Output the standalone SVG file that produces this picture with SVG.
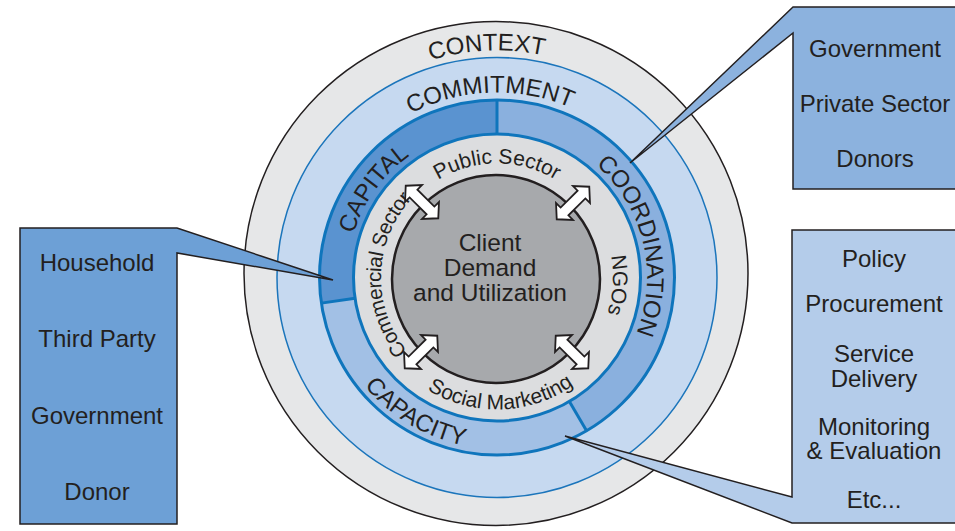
<svg xmlns="http://www.w3.org/2000/svg" width="955" height="531" viewBox="0 0 955 531">
<style>
text{font-family:"Liberation Sans","DejaVu Sans",sans-serif;fill:#231f20}
.ring{font-size:24px}
.inner{font-size:21px}
.box{font-size:24px;text-anchor:middle}
.ctr{font-size:24.5px;text-anchor:middle}
.thick{fill:none;stroke:#0f75bc;stroke-width:3}
.callout{stroke:#231f20;stroke-width:1.5;stroke-linejoin:miter}
.arrow{fill:#ffffff;stroke:#231f20;stroke-width:1.8;stroke-linejoin:miter}
</style>
<defs>
<path id="cw227" d="M497,504.5 A227,227 0 1 1 497,50.5 A227,227 0 1 1 497,504.5"/>
<path id="cw185" d="M497,462.5 A185,185 0 1 1 497,92.5 A185,185 0 1 1 497,462.5"/>
<path id="cw150" d="M497,427.5 A150,150 0 1 1 497,127.5 A150,150 0 1 1 497,427.5"/>
<path id="cw114" d="M497,391.5 A114,114 0 1 1 497,163.5 A114,114 0 1 1 497,391.5"/>
<path id="cw116" d="M497,393.5 A116,116 0 1 1 497,161.5 A116,116 0 1 1 497,393.5"/>
<path id="ccw132" d="M497,145.5 A132,132 0 1 0 497,409.5 A132,132 0 1 0 497,145.5"/>
<path id="ccw171" d="M497,106.5 A171,171 0 1 0 497,448.5 A171,171 0 1 0 497,106.5"/>
<path id="dblarrow" d="M-23,0 L-12,-12 L-12,-5.5 L12,-5.5 L12,-12 L23,0 L12,12 L12,5.5 L-12,5.5 L-12,12 Z"/>
</defs>

<g id="context">
<circle cx="496" cy="273.5" r="252" fill="#e6e7e8" stroke="#231f20" stroke-width="1.5"/>
<text class="ring"><textPath href="#cw227" startOffset="49.3%" text-anchor="middle">CONTEXT</textPath></text>
</g>

<g id="commitment">
<circle cx="497" cy="277.5" r="220" fill="#c6d9f0" stroke="#1b75bb" stroke-width="1.5"/>
<text class="ring"><textPath href="#cw185" startOffset="49.4%" text-anchor="middle">COMMITMENT</textPath></text>
</g>

<g id="capital">
<path d="M321.36,303.12 A177.5,177.5 0 0 1 497,100 L497,134 A143.5,143.5 0 0 0 355,298.22 Z" fill="#5a93d0"/>
</g>
<g id="coordination">
<path d="M497,100 A177.5,177.5 0 0 1 586.55,430.75 L569.4,401.4 A143.5,143.5 0 0 0 497,134 Z" fill="#8ab0de"/>
</g>
<g id="capacity">
<path d="M586.55,430.75 A177.5,177.5 0 0 1 321.36,303.12 L355,298.22 A143.5,143.5 0 0 0 569.4,401.4 Z" fill="#a2c0e5"/>
</g>

<g id="sectors">
<circle cx="497" cy="277.5" r="143.5" fill="#dcdddf"/>
<circle class="thick" cx="497" cy="277.5" r="177.5"/>
<circle class="thick" cx="497" cy="277.5" r="143.5"/>
<line class="thick" x1="497" y1="100" x2="497" y2="134"/>
<line class="thick" x1="321.36" y1="303.12" x2="355" y2="298.22"/>
<line class="thick" x1="586.55" y1="430.75" x2="569.4" y2="401.4"/>
<text class="ring"><textPath href="#cw150" startOffset="34.9%" text-anchor="middle">CAPITAL</textPath></text>
<text class="ring"><textPath href="#cw150" startOffset="71.25%" text-anchor="middle">COORDINATION</textPath></text>
<text class="ring"><textPath href="#ccw171" startOffset="41.4%" text-anchor="middle">CAPACITY</textPath></text>
<text class="inner"><textPath href="#cw114" startOffset="50%" text-anchor="middle">Public Sector</textPath></text>
<text class="inner"><textPath href="#cw116" startOffset="76%" text-anchor="middle">NGOs</textPath></text>
<text class="inner" style="font-size:20.5px;letter-spacing:-0.5px"><textPath href="#cw116" startOffset="25.4%" text-anchor="middle">Commercial Sector</textPath></text>
<text class="inner"><textPath href="#ccw132" startOffset="50.5%" text-anchor="middle">Social Marketing</textPath></text>
</g>

<g id="client">
<circle cx="496" cy="279" r="104" fill="#a7a9ac" stroke="#231f20" stroke-width="2.5"/>
<text class="ctr" x="490" y="251">Client</text>
<text class="ctr" x="490" y="276">Demand</text>
<text class="ctr" x="490" y="301">and Utilization</text>
</g>

<g id="connectors">
<use href="#dblarrow" class="arrow" transform="translate(422,202) rotate(45)"/>
<use href="#dblarrow" class="arrow" transform="translate(573,203) rotate(-45)"/>
<use href="#dblarrow" class="arrow" transform="translate(421,352) rotate(-45)"/>
<use href="#dblarrow" class="arrow" transform="translate(572,352) rotate(45)"/>
</g>

<g id="capital-callout">
<path class="callout" d="M20,228 L177,228 L333,280 L177,253 L177,524 L20,524 Z" fill="#6da0d6"/>
<text class="box" x="97" y="271">Household</text>
<text class="box" x="97" y="347">Third Party</text>
<text class="box" x="97" y="424">Government</text>
<text class="box" x="97" y="500">Donor</text>
</g>

<g id="coordination-callout">
<path class="callout" d="M793,7 L630,163 L793,33 L793,189 L956,189 L956,7 Z" fill="#8cb2de"/>
<text class="box" x="875" y="57">Government</text>
<text class="box" x="875" y="112">Private Sector</text>
<text class="box" x="875" y="167">Donors</text>
</g>

<g id="capacity-callout">
<path class="callout" d="M792,230 L956,230 L956,523 L792,523 L565,436 L792,497 Z" fill="#b4ccea"/>
<text class="box" x="874" y="267">Policy</text>
<text class="box" x="874" y="312">Procurement</text>
<text class="box" x="874" y="362">Service</text>
<text class="box" x="874" y="387">Delivery</text>
<text class="box" x="874" y="435">Monitoring</text>
<text class="box" x="874" y="459">&amp; Evaluation</text>
<text class="box" x="874" y="508">Etc...</text>
</g>
</svg>
